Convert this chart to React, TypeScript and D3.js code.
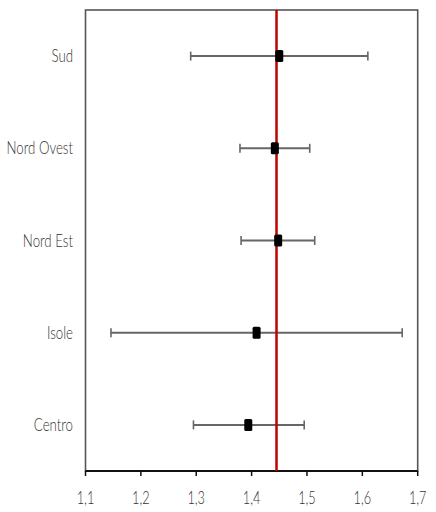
import React from "react";
import * as d3 from "d3";

const categories = ["Sud", "Nord Ovest", "Nord Est", "Isole", "Centro"];
const estimates = [1.45, 1.442, 1.448, 1.409, 1.394];
const lowers = [1.29, 1.379, 1.381, 1.146, 1.295];
const uppers = [1.61, 1.505, 1.514, 1.672, 1.495];
const referenceValue = 1.445;
const xTicks = [1.1, 1.2, 1.3, 1.4, 1.5, 1.6, 1.7];

const W = 436;
const H = 512;
const left = 85.5;
const right = 417.7;
const top = 10;
const bottom = 471;

export default function App() {
  const x = d3.scaleLinear().domain([1.1, 1.7]).range([left, right]);
  const y = d3.scaleBand<string>().domain(categories).range([top, bottom]).padding(0);
  const cy = (c: string) => (y(c) as number) + y.bandwidth() / 2;
  const fmt = (v: number) => d3.format(".1f")(v).replace(".", ",");
  const font = "Lato, 'Noto Sans', 'DejaVu Sans', sans-serif";

  return (
    <svg width={W} height={H} style={{ position: "absolute", left: 0, top: 0, background: "#fff" }}>
      {/* frame */}
      <rect x={left} y={top} width={right - left} height={bottom - top} fill="none" stroke="#555" strokeWidth={1.6} />
      {/* bottom axis */}
      <line x1={left} x2={right} y1={bottom} y2={bottom} stroke="#111" strokeWidth={2} />
      {xTicks.map((t) => (
        <g key={t}>
          <line x1={x(t)} x2={x(t)} y1={bottom} y2={bottom + 5} stroke="#111" strokeWidth={1.5} />
          <text
            transform={`translate(${x(t)},${bottom + 33}) scale(0.75,1)`}
            textAnchor="middle"
            fontFamily={font}
            fontWeight={300}
            fontSize={17}
            fill="#333"
          >
            {fmt(t)}
          </text>
        </g>
      ))}
      {/* category labels */}
      {categories.map((c) => (
        <text
          key={c}
          transform={`translate(73,${cy(c) + 6}) scale(0.78,1)`}
          textAnchor="end"
          fontFamily={font}
          fontWeight={300}
          fontSize={17}
          fill="#333"
        >
          {c}
        </text>
      ))}
      {/* error bars */}
      {categories.map((c, i) => (
        <g key={c}>
          <line x1={x(lowers[i])} x2={x(uppers[i])} y1={cy(c)} y2={cy(c)} stroke="#666" strokeWidth={2} />
          <line x1={x(lowers[i])} x2={x(lowers[i])} y1={cy(c) - 4.5} y2={cy(c) + 4.5} stroke="#666" strokeWidth={1.6} />
          <line x1={x(uppers[i])} x2={x(uppers[i])} y1={cy(c) - 4.5} y2={cy(c) + 4.5} stroke="#666" strokeWidth={1.6} />
        </g>
      ))}
      {/* reference line */}
      <line x1={x(referenceValue)} x2={x(referenceValue)} y1={top} y2={bottom} stroke="#c00000" strokeWidth={2.5} />
      {/* points */}
      {categories.map((c, i) => (
        <rect
          key={c}
          x={x(estimates[i]) - 4}
          y={cy(c) - 6}
          width={8}
          height={12}
          rx={1.5}
          fill="#000"
        />
      ))}
    </svg>
  );
}
